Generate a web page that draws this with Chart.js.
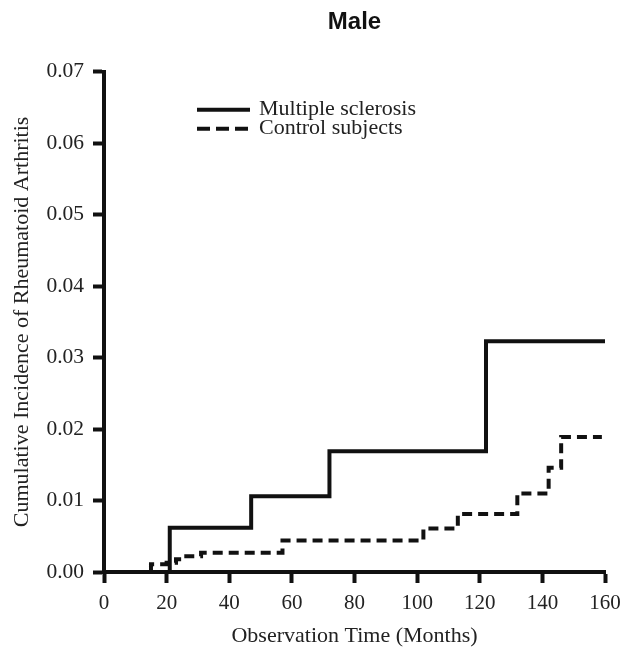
<!DOCTYPE html>
<html>
<head>
<meta charset="utf-8">
<script src="https://cdn.jsdelivr.net/npm/chart.js@4"></script>
<style>
  html, body { margin: 0; padding: 0; background: #fff; }
  #wrap { width: 624px; height: 652px; }
</style>
</head>
<body>
<div id="wrap"><canvas id="chart" width="624" height="652"></canvas></div>
<script>
// Kaplan-Meier style cumulative incidence
const msMonths = [0, 21, 47, 72, 122, 160];
const msIncidence = [0, 0.0062, 0.0106, 0.0169, 0.0323, 0.0323];

const ctrlMonths = [0, 15, 20, 23, 25, 31, 57, 102, 113, 132, 142, 146, 159];
const ctrlIncidence = [0, 0.0011, 0.0013, 0.0018, 0.0022, 0.0027, 0.0044, 0.0061, 0.0081, 0.011, 0.0146, 0.0189, 0.0189];

const seriesNames = ["Multiple sclerosis", "Control subjects"];
const xTicks = [0, 20, 40, 60, 80, 100, 120, 140, 160];
const yTicks = [0, 0.01, 0.02, 0.03, 0.04, 0.05, 0.06, 0.07];

const INK = "#111";
const serif = "'Liberation Serif', 'Times New Roman', serif";

function toPoints(xs, ys) {
    return xs.map((x, i) => ({ x: x, y: ys[i] }));
}

// legend drawn inside the plot, top-left like the original
const insideLegend = {
    id: "insideLegend",
    afterDraw(chart) {
        const ctx = chart.ctx;
        const area = chart.chartArea;
        const x0 = area.left + 93;
        const x1 = x0 + 53;
        const rows = [area.top + 38, area.top + 57];
        ctx.save();
        ctx.strokeStyle = INK;
        ctx.lineWidth = 4;
        rows.forEach((y, i) => {
            ctx.setLineDash(i === 0 ? [] : [13, 6]);
            ctx.beginPath();
            ctx.moveTo(x0, y);
            ctx.lineTo(x1, y);
            ctx.stroke();
        });
        ctx.setLineDash([]);
        ctx.fillStyle = "#222";
        ctx.font = "22px " + serif;
        ctx.textBaseline = "middle";
        rows.forEach((y, i) => {
            ctx.fillText(seriesNames[i], x1 + 9, y - 1);
        });
        ctx.restore();
    }
};

const ctx = document.getElementById("chart").getContext("2d");

new Chart(ctx, {
    type: "line",
    data: {
        datasets: [
            {
                label: seriesNames[0],
                data: toPoints(msMonths, msIncidence),
                stepped: true,
                borderColor: INK,
                borderWidth: 4,
                pointRadius: 0,
                fill: false
            },
            {
                label: seriesNames[1],
                data: toPoints(ctrlMonths, ctrlIncidence),
                stepped: true,
                borderColor: INK,
                borderWidth: 4,
                borderDash: [10, 6],
                pointRadius: 0,
                fill: false
            }
        ]
    },
    options: {
        responsive: false,
        animation: false,
        layout: { padding: { left: 0, right: 0, top: 0, bottom: 0 } },
        plugins: {
            legend: { display: false },
            tooltip: { enabled: false },
            title: {
                display: true,
                text: "Male",
                fullSize: false,
                color: INK,
                font: { family: "'Liberation Sans', Arial, sans-serif", size: 24, weight: "bold" },
                padding: { top: 8, bottom: 35 }
            }
        },
        scales: {
            x: {
                type: "linear",
                min: 0,
                max: 160,
                afterBuildTicks: (scale) => { scale.ticks = xTicks.map(v => ({ value: v })); },
                afterFit: (scale) => {
                    scale.height = 80;
                    scale.paddingRight = 19;
                },
                border: { display: true, color: INK, width: 4 },
                grid: { drawOnChartArea: false, drawTicks: true, tickLength: 11, tickWidth: 4, tickColor: INK },
                ticks: {
                    color: "#222",
                    padding: 8,
                    maxRotation: 0,
                    font: { family: serif, size: 21 }
                },
                title: {
                    display: true,
                    text: "Observation Time (Months)",
                    color: "#222",
                    font: { family: serif, size: 22 },
                    padding: { top: 0, bottom: 3 }
                }
            },
            y: {
                type: "linear",
                min: 0,
                max: 0.07,
                afterBuildTicks: (scale) => { scale.ticks = yTicks.map(v => ({ value: v })); },
                afterFit: (scale) => { scale.width = 104; },
                border: { display: true, color: INK, width: 4 },
                grid: { drawOnChartArea: false, drawTicks: true, tickLength: 11, tickWidth: 4, tickColor: INK },
                ticks: {
                    color: "#222",
                    padding: 9,
                    font: { family: serif, size: 21.5 },
                    callback: (v) => Number(v).toFixed(2)
                },
                title: {
                    display: true,
                    text: "Cumulative Incidence of Rheumatoid Arthritis",
                    color: "#222",
                    font: { family: serif, size: 22 },
                    padding: { top: 9, bottom: 0 }
                }
            }
        }
    },
    plugins: [insideLegend]
});
</script>
</body>
</html>
